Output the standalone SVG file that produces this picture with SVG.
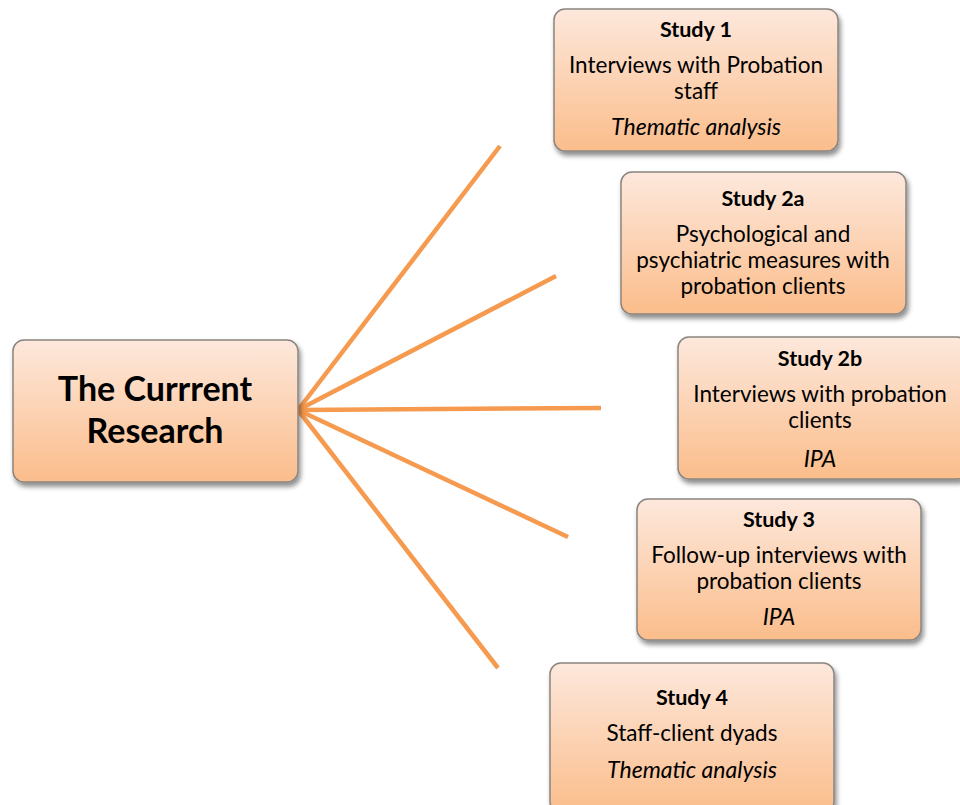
<svg xmlns="http://www.w3.org/2000/svg" width="960" height="805" viewBox="0 0 960 805">
  <defs>
    <linearGradient id="peach" x1="0" y1="0" x2="0" y2="1">
      <stop offset="0" stop-color="#fde8dc"/>
      <stop offset="1" stop-color="#fbbd8b"/>
    </linearGradient>
    <filter id="shadow" x="-10%" y="-10%" width="125%" height="130%">
      <feGaussianBlur in="SourceAlpha" stdDeviation="2.5"/>
      <feOffset dx="2" dy="4" result="b"/>
      <feComponentTransfer><feFuncA type="linear" slope="0.45"/></feComponentTransfer>
      <feMerge><feMergeNode/><feMergeNode in="SourceGraphic"/></feMerge>
    </filter>
  </defs>
  <style>
    .box { fill: url(#peach); stroke: #8a8580; stroke-width: 1.5; filter: url(#shadow); }
    text { font-family: Lato, "Liberation Sans", sans-serif; fill: #000; text-anchor: middle; }
    .t { font-size: 22.5px; }
    .h { font-size: 21.5px; font-weight: bold; }
    .i { font-size: 23px; font-style: italic; }
    .big { font-size: 34px; font-weight: bold; }
    .link { stroke: #f59a4e; stroke-width: 4.5; fill: none; stroke-linecap: butt; }
  </style>

  <rect width="960" height="805" fill="#ffffff"/>

  <g id="connectors">
    <line class="link" x1="298" y1="410" x2="500" y2="146"/>
    <line class="link" x1="298" y1="410" x2="556" y2="276"/>
    <line class="link" x1="298" y1="410" x2="601" y2="408"/>
    <line class="link" x1="298" y1="410" x2="568" y2="537"/>
    <line class="link" x1="298" y1="410" x2="498" y2="668"/>
  </g>

  <g id="current-research">
    <rect class="box" x="13" y="340" width="285" height="142" rx="11"/>
    <text class="big" x="155" y="401">The Currrent</text>
    <text class="big" x="155" y="443">Research</text>
  </g>

  <g id="study-1">
    <rect class="box" x="554" y="9" width="284" height="142" rx="11"/>
    <text class="h" x="696" y="37">Study 1</text>
    <text class="t" x="696" y="73">Interviews with Probation</text>
    <text class="t" x="696" y="99">staff</text>
    <text class="i" x="696" y="135">Thematic analysis</text>
  </g>

  <g id="study-2a">
    <rect class="box" x="621" y="172" width="285" height="142" rx="11"/>
    <text class="h" x="763" y="206">Study 2a</text>
    <text class="t" x="763" y="242">Psychological and</text>
    <text class="t" x="763" y="268">psychiatric measures with</text>
    <text class="t" x="763" y="294">probation clients</text>
  </g>

  <g id="study-2b">
    <rect class="box" x="678" y="337" width="290" height="142" rx="11"/>
    <text class="h" x="820" y="366">Study 2b</text>
    <text class="t" x="820" y="402">Interviews with probation</text>
    <text class="t" x="820" y="428">clients</text>
    <text class="i" x="820" y="467">IPA</text>
  </g>

  <g id="study-3">
    <rect class="box" x="637" y="499" width="284" height="141" rx="11"/>
    <text class="h" x="779" y="527">Study 3</text>
    <text class="t" x="779" y="563">Follow-up interviews with</text>
    <text class="t" x="779" y="589">probation clients</text>
    <text class="i" x="779" y="625">IPA</text>
  </g>

  <g id="study-4">
    <rect class="box" x="550" y="663" width="284" height="150" rx="11"/>
    <text class="h" x="692" y="705">Study 4</text>
    <text class="t" x="692" y="741">Staff-client dyads</text>
    <text class="i" x="692" y="778">Thematic analysis</text>
  </g>
</svg>
